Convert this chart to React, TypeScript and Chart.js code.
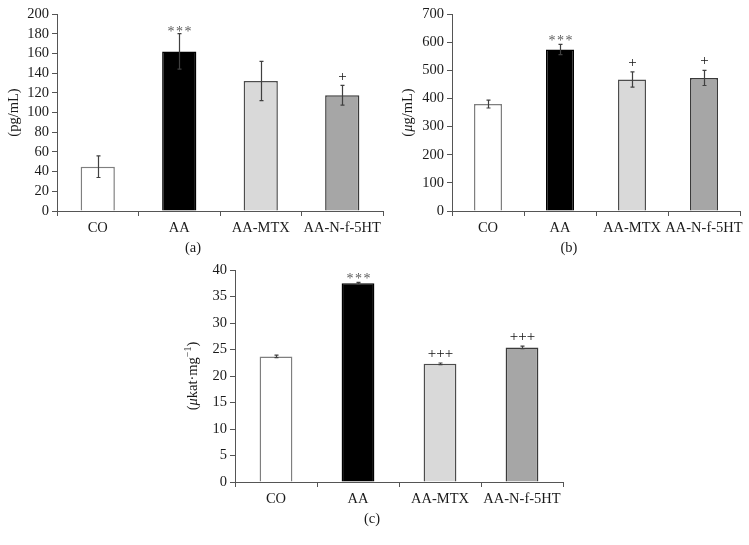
import React, { useEffect, useRef } from "react";
import { Chart, registerables } from "chart.js";
Chart.register(...registerables);

const categories = ["CO", "AA", "AA-MTX", "AA-N-f-5HT"];

const valuesA = [45, 162, 132, 117.5];
const errorsA = [11, 18, 20, 10];
const marksA = ["", "***", "", "+"];
const ticksA = { max: 200, step: 20 };

const valuesB = [380, 574, 467, 473];
const errorsB = [14, 18, 27, 27];
const marksB = ["", "***", "+", "+"];
const ticksB = { max: 700, step: 100 };

const valuesC = [23.7, 37.5, 22.3, 25.4];
const errorsC = [0.25, 0.15, 0.15, 0.25];
const marksC = ["", "***", "+++", "+++"];
const ticksC = { max: 40, step: 5 };

const fills = ["#ffffff", "#000000", "#d9d9d9", "#a6a6a6"];
const borders = ["#7f7f7f", "#000000", "#4d4d4d", "#3a3a3a"];

const FONT = "'Liberation Serif', 'DejaVu Serif', serif";
const AXIS = "#555555";
const TICK_SIZE = 14.5;

type Seg = { t: string; italic?: boolean; sup?: boolean };

type Panel = {
  left: number;
  top: number;
  width: number;
  height: number;
  area: { l: number; r: number; t: number; b: number };
  values: number[];
  errors: number[];
  marks: string[];
  ticks: { max: number; step: number };
  title: Seg[];
  titleX: number;
  barPct: number;
  markGap: number;
  caption: string;
  capX: number;
  capY: number;
};

const panels: Panel[] = [
  {
    left: 0, top: 0, width: 390, height: 240,
    area: { l: 57, r: 383, t: 14, b: 211 },
    values: valuesA, errors: errorsA, marks: marksA, ticks: ticksA,
    title: [{ t: "(pg/mL)" }], titleX: 14,
    barPct: 0.42, markGap: 4, caption: "(a)", capX: 193, capY: 247,
  },
  {
    left: 390, top: 0, width: 359, height: 240,
    area: { l: 62, r: 350, t: 14, b: 211 },
    values: valuesB, errors: errorsB, marks: marksB, ticks: ticksB,
    title: [{ t: "(" }, { t: "μ", italic: true }, { t: "g/mL)" }], titleX: 18,
    barPct: 0.39, markGap: 5, caption: "(b)", capX: 569, capY: 247,
  },
  {
    left: 180, top: 255, width: 400, height: 290,
    area: { l: 55, r: 383, t: 15, b: 227 },
    values: valuesC, errors: errorsC, marks: marksC, ticks: ticksC,
    title: [{ t: "(" }, { t: "μ", italic: true }, { t: "kat·mg" }, { t: "−1", sup: true }, { t: ")" }], titleX: 13,
    barPct: 0.4, markGap: 5, caption: "(c)", capX: 372, capY: 518,
  },
];

function PanelChart({ p }: { p: Panel }) {
  const ref = useRef<HTMLCanvasElement | null>(null);
  useEffect(() => {
    if (!ref.current) return;
    const extras = {
      id: "extras",
      afterDatasetsDraw(chart: any) {
        const ctx = chart.ctx as CanvasRenderingContext2D;
        const xs = chart.scales.x;
        const ys = chart.scales.y;
        ctx.save();
        p.values.forEach((v, i) => {
          const x = Math.round(xs.getPixelForValue(i)) + 0.5;
          const yt = ys.getPixelForValue(v + p.errors[i]);
          const yb = ys.getPixelForValue(v - p.errors[i]);
          ctx.strokeStyle = "#404040";
          ctx.lineWidth = 1.2;
          ctx.beginPath();
          ctx.moveTo(x, yt);
          ctx.lineTo(x, yb);
          ctx.moveTo(x - 2, yt);
          ctx.lineTo(x + 2, yt);
          ctx.moveTo(x - 2, yb);
          ctx.lineTo(x + 2, yb);
          ctx.stroke();
          const m = p.marks[i];
          if (m) {
            ctx.textAlign = "center";
            ctx.textBaseline = "alphabetic";
            if (m.startsWith("*")) {
              ctx.fillStyle = "#5a5a5a";
              ctx.font = `14px ${FONT}`;
              const sp = 8.5;
              for (let k = 0; k < m.length; k++) {
                ctx.fillText("*", x + (k - (m.length - 1) / 2) * sp, yt + 6 - p.markGap);
              }
            } else {
              ctx.fillStyle = "#111111";
              ctx.font = `15px ${FONT}`;
              ctx.fillText(m, x, yt - p.markGap);
            }
          }
        });
        ctx.restore();
      },
      afterDraw(chart: any) {
        const ctx = chart.ctx as CanvasRenderingContext2D;
        const cy = (p.area.t + p.area.b) / 2;
        ctx.save();
        ctx.translate(p.titleX, cy);
        ctx.rotate(-Math.PI / 2);
        ctx.fillStyle = "#1a1a1a";
        ctx.textBaseline = "middle";
        ctx.textAlign = "left";
        const fontOf = (s: Seg) =>
          `${s.italic ? "italic " : ""}${s.sup ? 10 : 14.5}px ${FONT}`;
        let total = 0;
        p.title.forEach((s) => {
          ctx.font = fontOf(s);
          total += ctx.measureText(s.t).width;
        });
        let x = -total / 2;
        p.title.forEach((s) => {
          ctx.font = fontOf(s);
          ctx.fillText(s.t, x, s.sup ? -5 : 0);
          x += ctx.measureText(s.t).width;
        });
        ctx.restore();
      },
    };
    const chart = new Chart(ref.current, {
      type: "bar",
      data: {
        labels: categories,
        datasets: [
          {
            data: p.values,
            backgroundColor: fills,
            borderColor: borders,
            borderWidth: 1.5,
            barPercentage: p.barPct,
            categoryPercentage: 1,
          },
        ],
      },
      options: {
        responsive: false,
        animation: false,
        devicePixelRatio: 1,
        layout: {
          padding: { top: p.area.t, right: p.width - p.area.r, left: 0, bottom: 0 },
        },
        plugins: { legend: { display: false }, tooltip: { enabled: false } },
        scales: {
          x: {
            type: "category",
            offset: true,
            grid: {
              offset: true,
              drawOnChartArea: false,
              drawTicks: true,
              tickLength: 5,
              color: AXIS,
              lineWidth: 1,
            },
            border: { display: true, color: AXIS, width: 1 },
            ticks: {
              color: "#1a1a1a",
              font: { family: FONT, size: TICK_SIZE },
              padding: 3,
              maxRotation: 0,
              autoSkip: false,
            },
            afterFit: (s: any) => {
              s.height = p.height - p.area.b;
            },
          },
          y: {
            min: 0,
            max: p.ticks.max,
            grid: {
              drawOnChartArea: false,
              drawTicks: true,
              tickLength: 5,
              color: AXIS,
              lineWidth: 1,
            },
            border: { display: true, color: AXIS, width: 1 },
            ticks: {
              stepSize: p.ticks.step,
              autoSkip: false,
              color: "#1a1a1a",
              font: { family: FONT, size: TICK_SIZE },
              padding: 3,
            },
            afterFit: (s: any) => {
              s.width = p.area.l;
            },
          },
        },
      } as any,
      plugins: [extras],
    });
    return () => chart.destroy();
  }, []);
  return (
    <canvas
      ref={ref}
      width={p.width}
      height={p.height}
      style={{
        position: "absolute",
        left: p.left,
        top: p.top,
        width: p.width,
        height: p.height,
        display: "block",
      }}
    />
  );
}

export default function App() {
  return (
    <div
      style={{
        position: "absolute",
        left: 0,
        top: 0,
        width: 749,
        height: 545,
        background: "#ffffff",
        overflow: "hidden",
      }}
    >
      {panels.map((p, i) => (
        <PanelChart key={i} p={p} />
      ))}
      {panels.map((p, i) => (
        <div
          key={"c" + i}
          style={{
            position: "absolute",
            left: p.capX - 30,
            top: p.capY - 10,
            width: 60,
            height: 20,
            lineHeight: "20px",
            textAlign: "center",
            fontFamily: FONT,
            fontSize: 14.5,
            color: "#1a1a1a",
          }}
        >
          {p.caption}
        </div>
      ))}
    </div>
  );
}
